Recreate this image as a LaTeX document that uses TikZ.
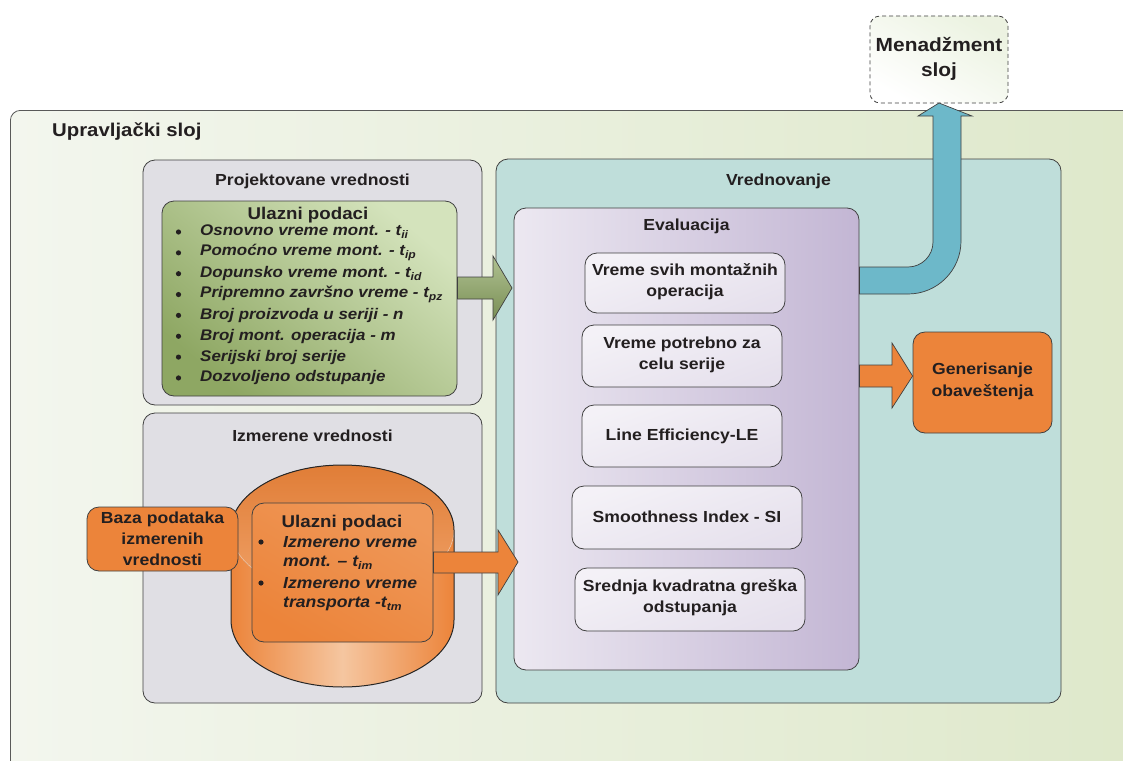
\documentclass[tikz,border=0pt]{standalone}
\usepackage{fontspec}
\setmainfont{Liberation Sans}[FakeStretch=1.1]
\usetikzlibrary{calc}
\newcommand{\lsub}[1]{\raisebox{-0.35ex}{\fontsize{11}{11}\selectfont #1}}
\definecolor{txt}{HTML}{231F20}
\definecolor{orng}{HTML}{EC843A}
\definecolor{orngL}{HTML}{F5C6A0}
\definecolor{grayb}{HTML}{E0DFE4}
\definecolor{teal}{HTML}{BFDEDA}
\definecolor{purL}{HTML}{ECE8F1}
\definecolor{purD}{HTML}{C3B6D4}
\definecolor{grnD}{HTML}{8EA763}
\definecolor{grnL}{HTML}{D4E3BC}
\definecolor{blu}{HTML}{6DB8C9}
\definecolor{bgL}{HTML}{F3F6EE}
\definecolor{bgD}{HTML}{DEE8CA}
\tikzset{
  box/.style={draw=black!75, line width=0.8pt, rounded corners=12pt, inner sep=0pt},
  wbox/.style={box, top color=purL!60!white, bottom color=purL!85!purD, shading angle=20},
  obox/.style={box, fill=orng},
  ttl/.style={font=\fontsize{16}{20}\selectfont\bfseries, text=txt, align=center, inner sep=0pt},
  ttlb/.style={ttl, font=\fontsize{16}{21}\selectfont\bfseries},
  big/.style={font=\fontsize{19}{25}\selectfont\bfseries, text=txt, align=center, inner sep=0pt},
  itm/.style={font=\fontsize{15.4}{20}\selectfont\bfseries\itshape, text=txt, anchor=west, inner sep=0pt},
  itmo/.style={itm, font=\fontsize{16}{20}\selectfont\bfseries\itshape},
  blockarrow/.style={draw=black!75, line width=0.7pt, line join=miter},
  bul/.style={fill=txt, draw=none}
}
\begin{document}
\begin{tikzpicture}[x=1pt,y=-1pt]
\clip (0,0) rectangle (1123,760);
\fill[white] (0,0) rectangle (1123,760);
% outer layer
\node[box, rounded corners=10pt, anchor=north west, minimum width=1140pt, minimum height=680pt,
      draw=black!65, left color=bgL, right color=bgD] (upr) at (10,110) {};
\node[big, anchor=west, font=\fontsize{18.5}{22}\selectfont\bfseries] (uprt) at (52,132) {Upravlja\v{c}ki sloj};
% management layer
\node[box, draw=black!75, dash pattern=on 4pt off 3pt, rounded corners=10pt, minimum width=138pt, minimum height=87pt,
      top color=grnL!45!white, bottom color=white, shading angle=-30] (men) at (939,59.5) {};
\node[big] (ment) at (939,59) {Menad\v{z}ment\\sloj};
% Projektovane vrednosti
\node[box, fill=grayb, minimum width=339pt, minimum height=245pt] (proj) at (312.5,282.5) {};
\node[ttl] (projt) at (312.5,181) {Projektovane vrednosti};
\node[box, minimum width=295pt, minimum height=195pt, top color=grnL, bottom color=grnD, shading angle=-40] (gin) at (309.5,298.5) {};
\node[ttl, font=\fontsize{17}{20}\selectfont\bfseries] (gint) at (308,215) {Ulazni podaci};
\foreach \t [count=\i from 0] in {
  {Osnovno vreme mont. - t\lsub{ii}},
  {Pomo\'cno vreme mont. - t\lsub{ip}},
  {Dopunsko vreme mont. - t\lsub{id}},
  {Pripremno zavr\v{s}no vreme - t\lsub{pz}},
  {Broj proizvoda u seriji - n},
  {Broj mont. operacija - m},
  {Serijski broj serije},
  {Dozvoljeno odstupanje}} {
  \fill[bul] (178.5,232+20.85*\i) circle (2.6pt);
  \node[itm] (gl\i) at (200,232+20.85*\i) {\t};
}
% Izmerene vrednosti
\node[box, fill=grayb, minimum width=339pt, minimum height=290pt] (izm) at (312.5,558) {};
\node[ttl] (izmt) at (312.5,436) {Izmerene vrednosti};
% cylinder
\path[left color=orng, right color=orng, middle color=orngL]
  (231,530) -- (231,620) arc[start angle=180,end angle=360,x radius=111.5pt,y radius=67pt]
  -- (454,530) arc[start angle=0,end angle=180,x radius=111.5pt,y radius=65pt] -- cycle;
\fill[top color=orng!95!black, bottom color=orng!55!orngL] (342.5,530) ellipse[x radius=111.5pt, y radius=65pt];
\draw[orng!40!white, line width=0.6pt] (231,530) arc[start angle=180,end angle=360,x radius=111.5pt,y radius=65pt];
\draw[black!85, line width=1pt]
  (231,530) -- (231,620) arc[start angle=180,end angle=360,x radius=111.5pt,y radius=67pt]
  -- (454,530) arc[start angle=0,end angle=180,x radius=111.5pt,y radius=65pt] -- cycle;
\node[box, minimum width=181pt, minimum height=139pt, top color=orng!70!orngL, bottom color=orng, shading angle=-30] (oin) at (342.5,572.5) {};
\node[ttl, font=\fontsize{17}{20}\selectfont\bfseries] (oint) at (342,523) {Ulazni podaci};
\fill[bul] (261,542) circle (2.6pt);
\fill[bul] (261,583) circle (2.6pt);
\node[itmo] (ol1) at (283,542) {Izmereno vreme};
\node[itmo] (ol2) at (283,563) {mont. -- t\lsub{im}};
\node[itmo] (ol3) at (283,583) {Izmereno vreme};
\node[itmo] (ol4) at (283,604) {transporta -t\lsub{tm}};
% Baza
\node[obox, minimum width=151pt, minimum height=64pt] (baza) at (162.5,539) {};
\node[ttlb] (bazat) at (162.5,539) {Baza podataka\\izmerenih\\vrednosti};
% Vrednovanje
\node[box, fill=teal, minimum width=565pt, minimum height=544pt] (vred) at (778.5,431) {};
\node[ttl] (vredt) at (778.5,181) {Vrednovanje};
\node[box, minimum width=345pt, minimum height=462pt, left color=purL, right color=purD] (eval) at (686.5,439) {};
\node[ttl] (evalt) at (686.5,226) {Evaluacija};
\node[wbox, minimum width=200pt, minimum height=60pt] (b1) at (685,283) {};
\node[ttlb] (b1t) at (685,282) {Vreme svih monta\v{z}nih\\operacija};
\node[wbox, minimum width=200pt, minimum height=62pt] (b2) at (682,356) {};
\node[ttlb] (b2t) at (682,355) {Vreme potrebno za\\celu serije};
\node[wbox, minimum width=200pt, minimum height=62pt] (b3) at (682,436) {};
\node[ttl] (b3t) at (682,436) {Line Efficiency-LE};
\node[wbox, minimum width=230pt, minimum height=63pt] (b4) at (687,517.5) {};
\node[ttl] (b4t) at (687,517) {Smoothness Index - SI};
\node[wbox, minimum width=230pt, minimum height=63pt] (b5) at (690,599.5) {};
\node[ttlb] (b5t) at (690,598) {Srednja kvadratna gre\v{s}ka\\odstupanja};
% Generisanje
\node[obox, minimum width=139pt, minimum height=101pt] (gen) at (982.5,382.5) {};
\node[ttl, font=\fontsize{16}{22}\selectfont\bfseries] (gent) at (982.5,381) {Generisanje\\obave\v{s}tenja};
% arrows
\draw[blockarrow, top color=grnD!70!white, bottom color=grnD!85!black]
  (gin.east |- 0,277) -- (493,277) -- (493,256) -- (512,288) -- (493,320) -- (493,299) -- (gin.east |- 0,299) -- cycle;
\draw[blockarrow, fill=orng]
  (oin.east |- 0,552) -- (498,552) -- (498,530) -- (518,562) -- (498,595) -- (498,573) -- (oin.east |- 0,573) -- cycle;
\draw[blockarrow, fill=orng]
  (eval.east |- 0,365) -- (892,365) -- (892,343) -- (gen.west |- 0,376) -- (892,408) -- (892,387) -- (eval.east |- 0,387) -- cycle;
\draw[blockarrow, fill=blu]
  (eval.east |- 0,267) -- (908,267) .. controls (921.8,267) and (933,255.8) .. (933,242)
  -- (933,116) -- (918,116) -- (men.south |- 0,103) -- (972,116) -- (961,116) -- (961,241)
  .. controls (961,270.3) and (937.3,294) .. (908,294) -- (eval.east |- 0,294) -- cycle;
\end{tikzpicture}
\end{document}
